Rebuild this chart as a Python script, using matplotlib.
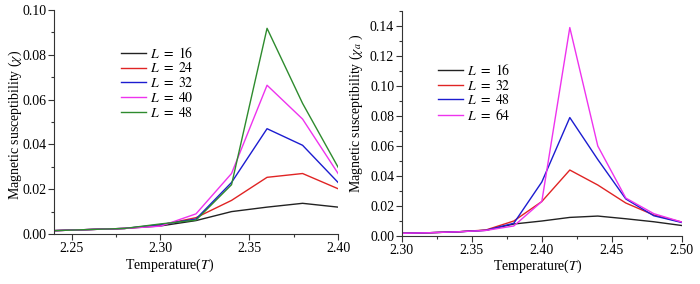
import matplotlib
matplotlib.use("Agg")
import matplotlib.pyplot as plt
from matplotlib.ticker import MultipleLocator, FormatStrFormatter

plt.rcParams["font.family"] = ["Liberation Serif", "DejaVu Serif"]
plt.rcParams["mathtext.fontset"] = "stix"
plt.rcParams["font.size"] = 10

# -------------------------------
# Data: left panel (chi)
# -------------------------------
temp_left = [2.24, 2.26, 2.28, 2.30, 2.32, 2.34, 2.36, 2.38, 2.40]
chi_L16 = [0.0015, 0.0020, 0.0025, 0.0036, 0.0060, 0.0100, 0.0120, 0.0137, 0.0120]
chi_L24 = [0.0015, 0.0020, 0.0025, 0.0040, 0.0073, 0.0150, 0.0253, 0.0270, 0.0202]
chi_L32 = [0.0015, 0.0020, 0.0025, 0.0042, 0.0067, 0.0230, 0.0470, 0.0396, 0.0230]
chi_L40 = [0.0015, 0.0020, 0.0025, 0.0035, 0.0090, 0.0270, 0.0664, 0.0513, 0.0270]
chi_L48 = [0.0015, 0.0020, 0.0025, 0.0045, 0.0062, 0.0220, 0.0918, 0.0583, 0.0298]
left_labels = ["16", "24", "32", "40", "48"]

# -------------------------------
# Data: right panel (chi_a)
# -------------------------------
temp_right = [2.30, 2.32, 2.34, 2.36, 2.38, 2.40, 2.42, 2.44, 2.46, 2.48, 2.50]
chia_L16 = [0.0018, 0.0022, 0.0028, 0.0038, 0.0080, 0.0100, 0.0124, 0.0133, 0.0115, 0.0095, 0.0070]
chia_L32 = [0.0018, 0.0022, 0.0028, 0.0040, 0.0100, 0.0230, 0.0440, 0.0340, 0.0220, 0.0140, 0.0093]
chia_L48 = [0.0018, 0.0022, 0.0028, 0.0038, 0.0085, 0.0360, 0.0790, 0.0510, 0.0247, 0.0135, 0.0090]
chia_L64 = [0.0018, 0.0022, 0.0028, 0.0037, 0.0067, 0.0230, 0.1390, 0.0600, 0.0253, 0.0149, 0.0093]
right_labels = ["16", "32", "48", "64"]

colors = ["#222222", "#e02424", "#1c1cd0", "#ee33ee", "#2e8b2e"]

fig = plt.figure(figsize=(7.0, 2.84), dpi=100)
ax1 = fig.add_axes([0.077, 0.176, 0.406, 0.789])
ax2 = fig.add_axes([0.574, 0.169, 0.400, 0.792])


def style_axes(ax):
    for side in ("top", "right"):
        ax.spines[side].set_visible(False)
    for side in ("left", "bottom"):
        ax.spines[side].set_color("#333333")
    ax.tick_params(which="major", direction="out", length=4, width=0.8, colors="#333333",
                   labelcolor="black", labelsize=10, pad=1.5)
    ax.tick_params(which="minor", direction="out", length=2, width=0.8, colors="#333333")
    ax.yaxis.set_major_formatter(FormatStrFormatter("%.2f"))
    ax.xaxis.set_major_formatter(FormatStrFormatter("%.2f"))


# left panel
for series, lab, c in zip([chi_L16, chi_L24, chi_L32, chi_L40, chi_L48], left_labels, colors):
    ax1.plot(temp_left, series, color=c, lw=1.0, label=r"$L\ =\ %s$" % lab)
ax1.set_xlim(2.24, 2.40)
ax1.set_ylim(0, 0.10)
ax1.xaxis.set_major_locator(MultipleLocator(0.05))
ax1.xaxis.set_minor_locator(MultipleLocator(0.025))
ax1.yaxis.set_major_locator(MultipleLocator(0.02))
ax1.yaxis.set_minor_locator(MultipleLocator(0.01))
style_axes(ax1)
ax1.set_xlabel(r"Temperature($T$)")
ax1.set_ylabel(r"Magnetic susceptibility ($\chi$)")
ax1.xaxis.set_label_coords(0.408, -0.10)
ax1.yaxis.set_label_coords(-0.137, 0.487)
ax1.yaxis.label.set_va("center")
ax1.legend(loc="upper left", bbox_to_anchor=(0.235, 0.84), frameon=False,
           handlelength=1.8, handletextpad=0.3, labelspacing=0.05,
           borderpad=0, borderaxespad=0, fontsize=10)

# right panel
for series, lab, c in zip([chia_L16, chia_L32, chia_L48, chia_L64], right_labels, colors[:4]):
    ax2.plot(temp_right, series, color=c, lw=1.0, label=r"$L\ =\ %s$" % lab)
ax2.set_xlim(2.30, 2.50)
ax2.set_ylim(0, 0.15)
ax2.xaxis.set_major_locator(MultipleLocator(0.05))
ax2.xaxis.set_minor_locator(MultipleLocator(0.025))
ax2.yaxis.set_major_locator(MultipleLocator(0.02))
ax2.yaxis.set_minor_locator(MultipleLocator(0.01))
style_axes(ax2)
ax2.set_xlabel(r"Temperature($T$)")
ax2.set_ylabel(r"Magnetic susceptibility ($\chi_a$ )")
ax2.xaxis.set_label_coords(0.486, -0.095)
ax2.yaxis.set_label_coords(-0.161, 0.544)
ax2.yaxis.label.set_va("center")
ax2.legend(loc="upper left", bbox_to_anchor=(0.128, 0.77), frameon=False,
           handlelength=1.8, handletextpad=0.3, labelspacing=0.05,
           borderpad=0, borderaxespad=0, fontsize=10)

fig.savefig("out.png", dpi=100)
